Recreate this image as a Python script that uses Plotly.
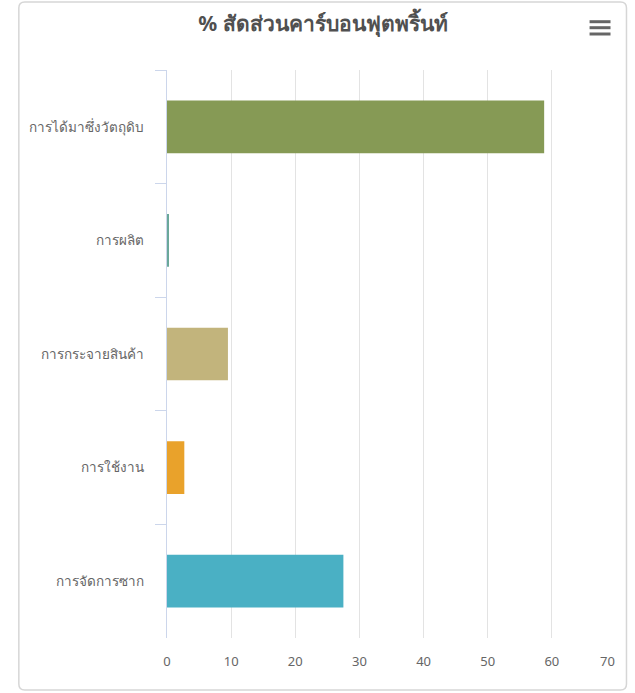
import plotly.graph_objects as go

# Carbon footprint share by life-cycle stage (%)
stages = ["การได้มาซึ่งวัตถุดิบ", "การผลิต", "การกระจายสินค้า", "การใช้งาน", "การจัดการซาก"]
shares = [58.8, 0.3, 9.5, 2.7, 27.5]
bar_colors = ["#869a55", "#6aa89a", "#c2b47c", "#e9a22b", "#4ab0c4"]
x_ticks = [0, 10, 20, 30, 40, 50, 60, 70]
# last label nudged left so it stays inside the plot edge
x_tick_text = [str(v) for v in x_ticks[:-1]] + ["70" + "\u00a0" * 5]

W, H = 635, 693
ML, MR, MT, MB = 166.5, 18.5, 70, 55
PW, PH = W - ML - MR, H - MT - MB


def px(x):
    return (x - ML) / PW


def py(y):
    return 1 - (y - MT) / PH


fig = go.Figure(
    go.Bar(
        y=stages,
        x=shares,
        orientation="h",
        marker=dict(color=bar_colors, line=dict(width=0)),
        hovertemplate="%{y}: %{x}<extra></extra>",
    )
)

# rounded card frame around the chart
x0, x1, y0, y1, r = px(18), px(627), py(2), py(690), 6 / PW
ry = 6 / PH
card_path = (
    f"M {x0 + r},{y0} L {x1 - r},{y0} Q {x1},{y0} {x1},{y0 - ry} "
    f"L {x1},{y1 + ry} Q {x1},{y1} {x1 - r},{y1} "
    f"L {x0 + r},{y1} Q {x0},{y1} {x0},{y1 + ry} "
    f"L {x0},{y0 - ry} Q {x0},{y0} {x0 + r},{y0} Z"
)
shapes = [
    dict(type="path", xref="paper", yref="paper", path=card_path,
         line=dict(color="#d6d6d6", width=1.5), fillcolor="rgba(0,0,0,0)", layer="below"),
]
# context-menu icon (three bars)
for yy in (21.7, 27.7, 34):
    shapes.append(dict(type="line", xref="paper", yref="paper",
                       x0=px(590), x1=px(611), y0=py(yy), y1=py(yy),
                       line=dict(color="#666666", width=3)))

fig.update_layout(
    width=W,
    height=H,
    margin=dict(l=ML, r=MR, t=MT, b=MB, pad=0, autoexpand=False),
    paper_bgcolor="white",
    plot_bgcolor="white",
    bargap=0.536,
    showlegend=False,
    font=dict(family="Noto Sans, DejaVu Sans, sans-serif", color="#666666"),
    title=dict(
        text="% สัดส่วนคาร์บอนฟุตพริ้นท์",
        x=323 / W, xanchor="center", xref="container",
        y=1 - 24 / H, yanchor="middle", yref="container",
        font=dict(size=21, color="#505050", weight="bold"),
    ),
    xaxis=dict(
        range=[0, 70],
        tickvals=x_ticks,
        ticktext=x_tick_text,
        showgrid=True,
        gridcolor="#e3e3e3",
        gridwidth=1.2,
        zeroline=False,
        showline=False,
        ticks="",
        tickfont=dict(size=13, color="#666666"),
        ticklabelstandoff=14,
        automargin=False,
        fixedrange=True,
    ),
    yaxis=dict(
        type="category",
        autorange="reversed",
        tickson="boundaries",
        ticks="outside",
        ticklen=11,
        tickcolor="#ccd6eb",
        tickwidth=1,
        showline=True,
        linecolor="#ccd6eb",
        linewidth=1,
        showgrid=False,
        tickfont=dict(size=13.5, color="#666666"),
        ticklabelstandoff=19,
        automargin=False,
        fixedrange=True,
    ),
    shapes=shapes,
)

fig.write_html("out.html")
